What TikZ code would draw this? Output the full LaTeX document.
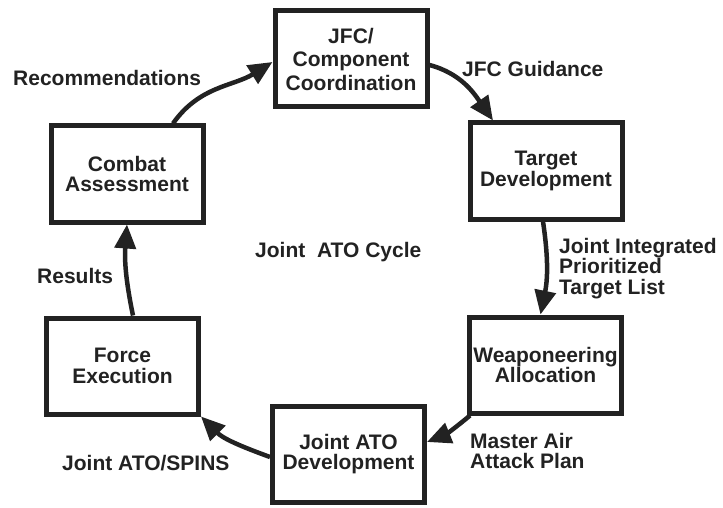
\documentclass[tikz,border=0pt]{standalone}
\usepackage{fontspec}
\setmainfont{Liberation Sans}
\usetikzlibrary{arrows.meta,calc}
\newcommand\diagfont{\fontsize{21}{20.5}\selectfont\bfseries}
\definecolor{ink}{HTML}{222222}
\begin{document}
\begin{tikzpicture}[x=1pt,y=1pt,
  box/.style={draw=ink, line width=5pt, minimum width=152pt, minimum height=96pt,
    inner sep=0pt, align=center, font=\diagfont, text=ink},
  lbl/.style={inner sep=0pt, font=\diagfont, align=left, text=ink},
  flow/.style={draw=ink, line width=4.5pt, -{Triangle[length=24pt,width=21pt]}},
]
\useasboundingbox (0,0) rectangle (723,507);

% process steps of the cycle
\node[box, font=\fontsize{21}{23.5}\selectfont\bfseries] (jfc) at (351,448)
  {JFC/\\Component\\Coordination};
\node[box] (tgt)    at (546,336)   {Target\\Development};
\node[box] (wpn)    at (545.5,142) {Weaponeering\\Allocation};
\node[box] (jato)   at (348.5,53)  {Joint ATO\\Development};
\node[box] (force)  at (122.5,141) {Force\\Execution};
\node[box] (combat) at (127,333)   {Combat\\Assessment};

% connectors
\draw[flow] ($(combat.north)+(46,0)$) to[out=55,in=212] ($(jfc.west)+(0,-3)$);
\draw[flow] ($(jfc.east)+(0,-6)$) to[out=-15,in=125] ($(tgt.north)+(-53,0)$);
\draw[flow] ($(tgt.south)+(-3,0)$) to[bend left=10] ($(wpn.north)+(-5,0)$);
\draw[flow] ($(wpn.south west)+(3,0)$) to[out=220,in=22] ($(jato.east)+(0,12)$);
\draw[flow] ($(jato.west)+(0,-3)$) to[out=160,in=-45] (force.south east);
\draw[flow] ($(force.north)+(10.5,0)$) to[bend left=8] (combat.south);

% connector labels
\node[lbl, anchor=base west] (l1) at (13,421)  {Recommendations};
\node[lbl, anchor=base west] (l2) at (462,430) {JFC Guidance};
\node[lbl, anchor=north west] (l3) at (559,269) {Joint Integrated\\Prioritized\\Target List};
\node[lbl, anchor=north west] (l4) at (470,74)  {Master Air\\Attack Plan};
\node[lbl, anchor=base west] (l5) at (62,37)   {Joint ATO/SPINS};
\node[lbl, anchor=base west] (l6) at (37,224)  {Results};
\node[lbl, anchor=base west] (title) at (255,250) {Joint\ \ ATO Cycle};
\end{tikzpicture}
\end{document}
